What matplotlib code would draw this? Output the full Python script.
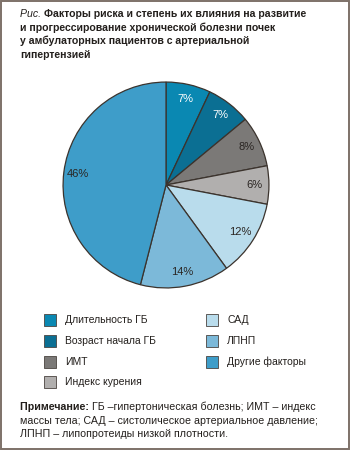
import matplotlib
matplotlib.use("Agg")
import matplotlib.pyplot as plt
from matplotlib.patches import Rectangle

plt.rcParams['font.family'] = ['Liberation Sans', 'DejaVu Sans']

labels = ["Длительность ГБ", "Возраст начала ГБ", "ИМТ", "Индекс курения",
          "САД", "ЛПНП", "Другие факторы"]
shares = [7, 7, 8, 6, 12, 14, 46]
colors = ["#0a88b2", "#0b6f93", "#7b7977", "#b1afae", "#b9dcec", "#7cb9d9", "#3e9dc9"]
text_colors = ["white", "white", "#2a2522", "#2a2522", "#2a2522", "#2a2522", "#2a2522"]

title_lines = ["Факторы риска и степень их влияния на развитие",
               "и прогрессирование хронической болезни почек",
               "у амбулаторных пациентов с артериальной",
               "гипертензией"]
note = ["ГБ –гипертоническая болезнь; ИМТ – индекс",
        "массы тела; САД – систолическое артериальное давление;",
        "ЛПНП – липопротеиды низкой плотности."]

W, H = 350, 450
fig = plt.figure(figsize=(3.5, 4.5), dpi=100)
fig.patch.set_facecolor("white")

# outer frame
fig.add_artist(Rectangle((0.003, 0.003), 0.994, 0.994, transform=fig.transFigure,
                         fill=False, edgecolor="#7d7168", linewidth=1.4))

def fx(px):
    return px / W

def fy(py):
    return 1 - py / H

# title
t = fig.text(fx(20), fy(14), "Рис. ", fontsize=7.6, style="italic", va="center", color="#231f1c")
fig.canvas.draw()
bb = t.get_window_extent()
x0 = bb.x1 / W
fig.text(x0, fy(14), title_lines[0], fontsize=7.6, weight="bold", va="center", color="#231f1c")
for i, line in enumerate(title_lines[1:]):
    fig.text(fx(20), fy(14 + 13.5 * (i + 1)), line, fontsize=7.6, weight="bold",
             va="center", color="#231f1c")

# pie
cx, cy, r = 166, 185, 105
ax = fig.add_axes([fx(cx - r), fy(cy + r), fx(2 * r), (2 * r) / H])
wedges, _, autotexts = ax.pie(shares, colors=colors, startangle=90, counterclock=False,
                              autopct="%d%%", pctdistance=0.86,
                              wedgeprops=dict(edgecolor="#3b332d", linewidth=0.9),
                              textprops=dict(fontsize=8))
for at, c in zip(autotexts, text_colors):
    at.set_color(c)
ax.set_xlim(-1.02, 1.02)
ax.set_ylim(-1.02, 1.02)
ax.set_aspect("equal")
ax.axis("off")

# legend, two columns
rows = [320, 341, 362, 382]
for i, (lab, col) in enumerate(zip(labels, colors)):
    if i < 4:
        sx, sy = 44, rows[i]
    else:
        sx, sy = 206, rows[i - 4]
    fig.add_artist(Rectangle((fx(sx), fy(sy + 6)), fx(12), 12 / H, transform=fig.transFigure,
                             facecolor=col, edgecolor="#4a4440", linewidth=0.6))
    fig.text(fx(sx + 21), fy(sy), lab, fontsize=7.5, va="center", color="#231f1c")

# note
n = fig.text(fx(20), fy(407), "Примечание: ", fontsize=7.7, weight="bold", va="center",
             color="#231f1c")
fig.canvas.draw()
nb = n.get_window_extent()
fig.text(nb.x1 / W, fy(407), note[0], fontsize=7.7, va="center", color="#231f1c")
for i, line in enumerate(note[1:]):
    fig.text(fx(20), fy(407 + 13.5 * (i + 1)), line, fontsize=7.7, va="center", color="#231f1c")

fig.savefig("out.png", dpi=100)
